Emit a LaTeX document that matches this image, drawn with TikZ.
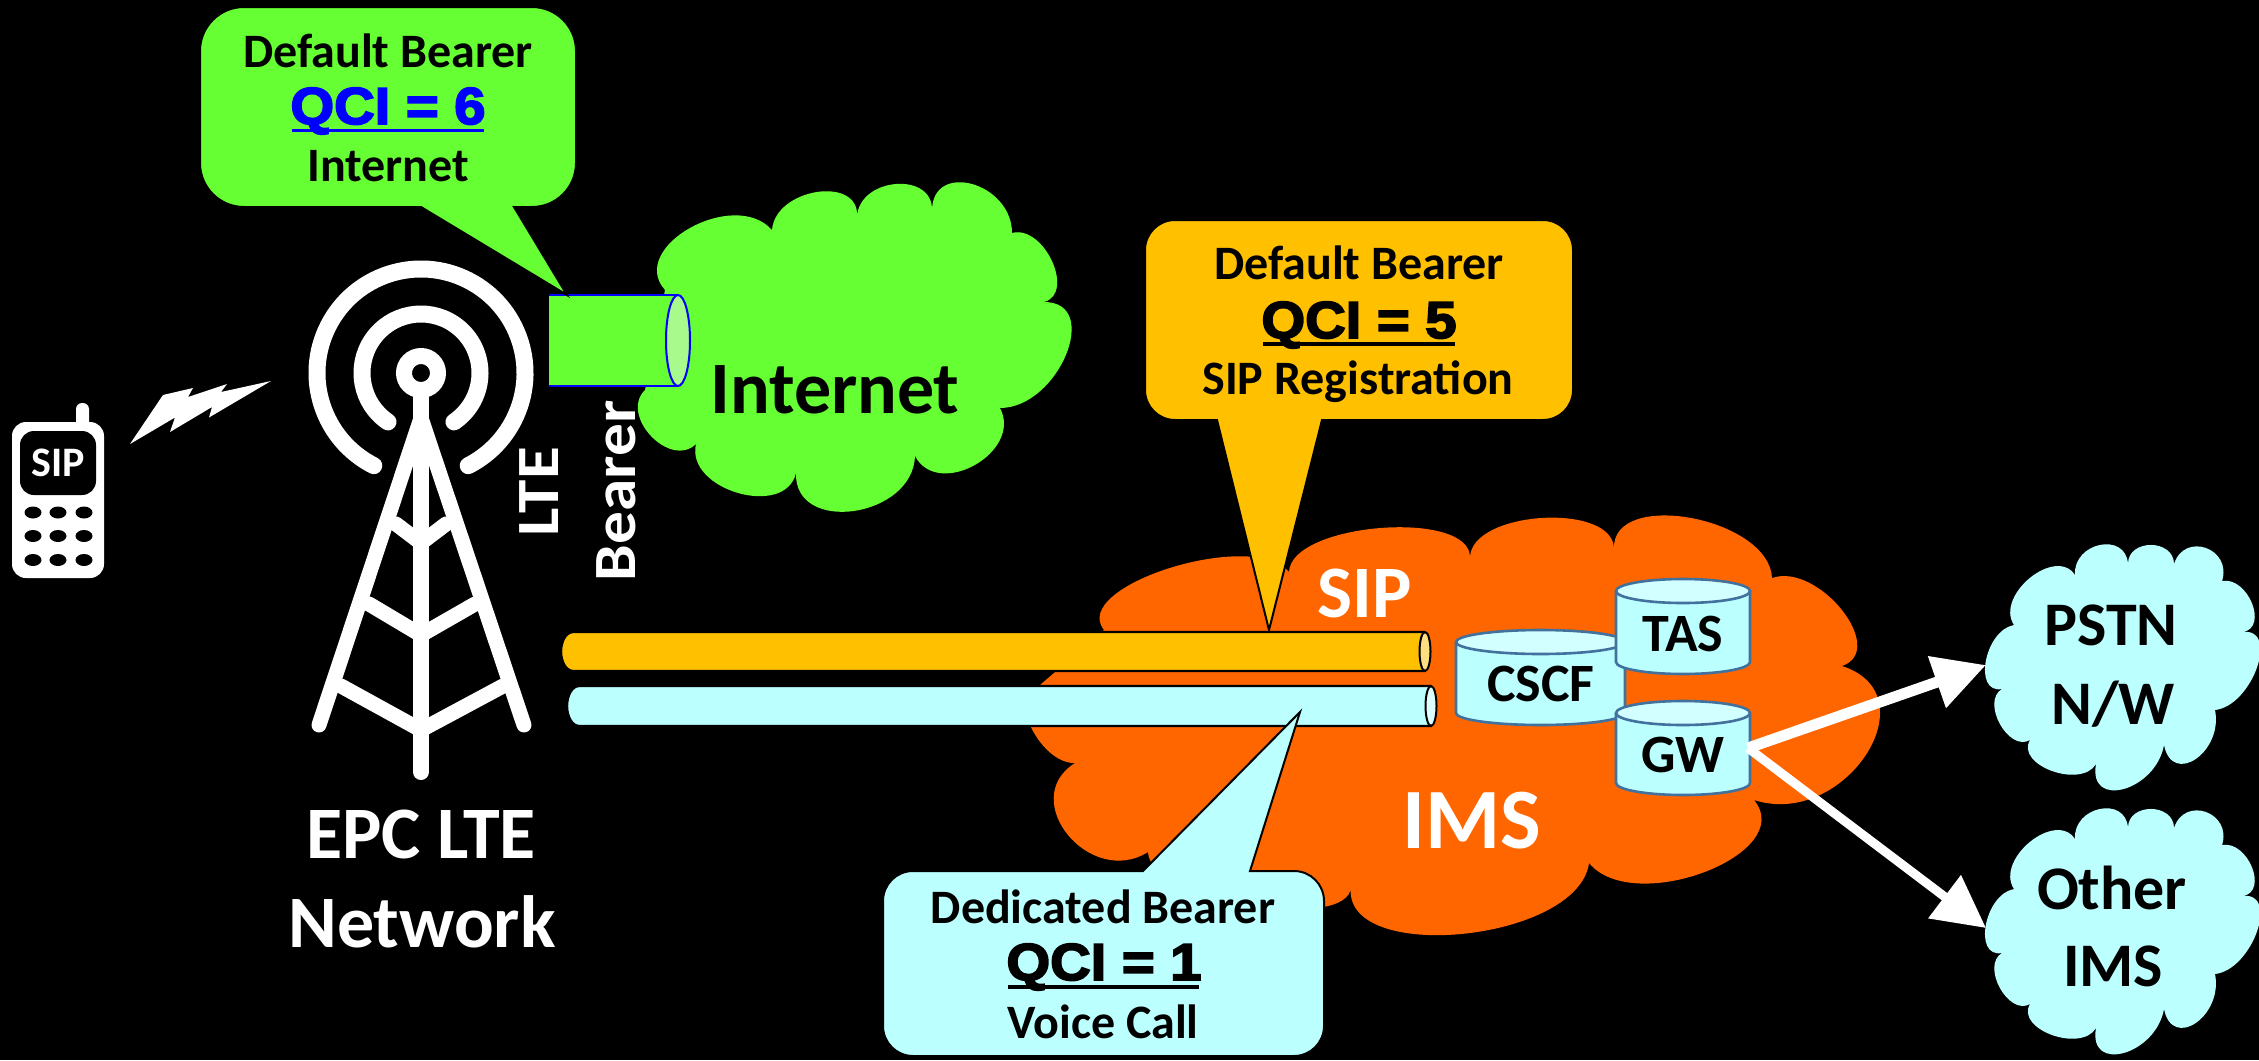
\documentclass[tikz,border=0pt]{standalone}
\usepackage{fontspec}
\setmainfont{Carlito}
\newfontfamily\qcifont[FakeBold=3.5,FakeStretch=1.08]{Liberation Sans Bold}
\usetikzlibrary{arrows.meta,calc}
\definecolor{grn}{HTML}{66FF33}
\definecolor{grnlt}{HTML}{A9FA8C}
\definecolor{amb}{HTML}{FFC000}
\definecolor{amblt}{HTML}{FFE080}
\definecolor{cyn}{HTML}{BBFFFF}
\definecolor{cynlt}{HTML}{DDFFFF}
\definecolor{org}{HTML}{FF6600}
\definecolor{dbedge}{HTML}{41719C}
\definecolor{dbtop}{HTML}{D2FFFF}
\newcommand{\fs}[1]{\fontsize{#1}{#1}\selectfont\bfseries}
\newcommand{\qf}[1]{\fontsize{#1}{#1}\qcifont}
\newcommand{\crad}{15pt}
% callout with pointer below: x0 y0 x1 y1 basea baseb tipx tipy fill
\newcommand{\callout}[9]{\fill[#9,draw=black,line width=1pt,rounded corners=\crad]
  (#5,#4) -- (#1,#4) -- (#1,#2) -- (#3,#2) -- (#3,#4) [sharp corners] -- (#6,#4) -- (#7,#8) -- cycle;}
% callout with pointer above
\newcommand{\calloutup}[9]{\fill[#9,draw=black,line width=1pt,rounded corners=\crad]
  (#6,#2) -- (#3,#2) -- (#3,#4) -- (#1,#4) -- (#1,#2) [sharp corners] -- (#5,#2) -- (#7,#8) -- cycle;}
% bar: xl xr ytop ybot rx fill edge
\newcommand{\pipebar}[7]{\fill[#6,draw=#7,line width=1.2pt] (#2,#3) -- (#1,#3) arc[x radius=#5,y radius={(#4-#3)/2},start angle=270,end angle=90] -- (#2,#4);}
% data store: x0 x1 ytop ybot ry
\newcommand{\dbase}[5]{\path[fill=cyn,draw=dbedge,line width=1.3pt] (#1,#3+#5) -- (#1,#4-#5) arc[x radius={(#2-#1)/2},y radius=#5,start angle=180,end angle=0] -- (#2,#3+#5);
  \path[fill=dbtop,draw=dbedge,line width=1.3pt] ({(#1+#2)/2},#3+#5) ellipse[x radius={(#2-#1)/2},y radius=#5];}
\tikzset{
  lb/.style 2 args={to path={.. controls ($0.3333*(\tikztostart)+1.3333*(#1,#2)-0.6667*(\tikztotarget)$) and ($0.3333*(\tikztotarget)+1.3333*(#1,#2)-0.6667*(\tikztostart)$) .. (\tikztotarget)}},
  lab/.style={anchor=base,inner sep=0pt,text=black},
  wlab/.style={lab,text=white},
  tw/.style={white,line width=7.5pt,line cap=round,line join=round},
  flow/.style={white,line width=#1,-{Triangle[length=26pt,width=26pt]}},
}
\begin{document}
\begin{tikzpicture}[x=0.5pt,y=-0.5pt]
\fill[black] (0,0) rectangle (2259,1060);
\useasboundingbox (0,0) rectangle (2259,1060);
% Internet cloud
\fill[grn] (665,290) to[lb={690}{228}] (772,230) to[lb={817}{192}] (857,217) to[lb={896}{184}] (932,211)
  to[lb={972}{184}] (1012,233) to[lb={1052}{261}] (1044,302) to[lb={1066}{355}] (1000,408)
  to[lb={975}{465}] (915,456) to[lb={854}{511}] (796,473) to[lb={738}{493}] (696,444)
  to[lb={651}{436}] (645,390) -- cycle;
% IMS cloud
\fill[org] (1104,630) to[lb={1170}{568}] (1289,572) to[lb={1381}{528}] (1470,558) to[lb={1542}{518}] (1614,549)
  to[lb={1691}{518}] (1772,578) to[lb={1842}{610}] (1842,666) to[lb={1866}{755}] (1754,800)
  to[lb={1705}{872}] (1589,863) to[lb={1462}{934}] (1351,886) to[lb={1250}{905}] (1148,852)
  to[lb={1068}{835}] (1075,763) to[lb={1030}{725}] (1040,685) -- cycle;
% PSTN and Other IMS clouds
\foreach \dy in {0,264}{
\begin{scope}[yshift=-\dy*0.5pt]
\fill[cyn] (2014,625) to[lb={2030}{578}] (2075,575) to[lb={2100}{545}] (2128,564) to[lb={2151}{545}] (2174,564)
  to[lb={2206}{548}] (2222,581) to[lb={2252}{603}] (2243,632) to[lb={2257}{668}] (2215,710)
  to[lb={2196}{759}] (2164,745) to[lb={2124}{789}] (2096,764) to[lb={2052}{771}] (2030,740)
  to[lb={2000}{724}] (2002,689) to[lb={1986}{661}] (2014,625) -- cycle;
\end{scope}}
% green pipe
\fill[grn] (549,295) rectangle (678,386);
\draw[blue,line width=1.2pt] (549,295) -- (678,295) (549,386) -- (678,386);
\path[fill=grnlt,draw=blue,line width=1pt] (678,340.5) ellipse[x radius=12,y radius=45.5];
% callouts
\renewcommand{\crad}{22pt}
\callout{200}{7}{576}{207}{421}{514}{567}{295}{grn}
\renewcommand{\crad}{15pt}
\callout{1145}{220}{1573}{420}{1217}{1322}{1269}{630}{amb}
% bars
\pipebar{573}{1425}{632}{671}{12}{amb}{black}
\path[fill=amblt,draw=black,line width=1pt] (1425,651.5) ellipse[x radius=5.5,y radius=19.5];
\pipebar{579}{1431}{686}{726}{12}{cyn}{black}
\path[fill=cynlt,draw=black,line width=1pt] (1431,706) ellipse[x radius=5.5,y radius=20];
\calloutup{883}{871}{1324}{1056}{1143}{1250}{1300}{712}{cyn}
% stores
\dbase{1456}{1625}{630}{725}{12}
\dbase{1616}{1750}{579}{674}{12}
\dbase{1616}{1750}{701}{795}{12}
% tower
\draw[tw] (421,418) -- (319,725);
\draw[tw] (421,418) -- (524,725);
\draw[tw,line width=8pt] (421,398) -- (421,772);
\draw[tw] (396,524) -- (421,543) -- (446,524);
\draw[tw] (369,604) -- (421,635) -- (475,604);
\draw[tw] (341,686) -- (421,730) -- (503,686);
\draw[white,line width=8pt] (421,373) circle[radius=17];
\draw[tw,line width=8.5pt] (421,373) ++(117:104) arc[radius=104,start angle=117,end angle=423];
\draw[tw,line width=8.5pt] (421,373) ++(124:59) arc[radius=59,start angle=124,end angle=416];
% phone
\fill[white,rounded corners=7pt] (12,422) rectangle (104,578);
\fill[white,rounded corners=3pt] (76,403) rectangle (89,430);
\fill[black,rounded corners=7pt] (20,431) rectangle (96,495);
\foreach \r in {512.5,536,560}\foreach \c in {33,58,84}{\fill[black] (\c,\r) ellipse[x radius=8.5,y radius=6];}
\node[wlab] (sipphone) at (58,476) {\fs{21}SIP};
% bolt
\fill[white] (130,444) -- (163,395) -- (193,388) -- (188,397) -- (227,384) -- (221,392) -- (271,381)
  -- (209,417.5) -- (212,407) -- (170,432) -- (175,417.5) -- cycle;
% arrows
\coordinate (gwport) at (1748,748);
\coordinate (pstnport) at (1986,665);
\coordinate (otherport) at (1986,928);
\draw[flow=5.5pt] (gwport) -- (pstnport);
\draw[flow=4.5pt] (gwport) -- (otherport);
% labels
\node[lab] (inet) at (835,413) {\fs{37}Internet};
\node[lab] (g1) at (388,67) {\fs{24}Default Bearer};
\node[lab,text=blue] (g2) at (388,124) {\qf{26}QCI = 6};
\node[lab] (g3) at (388,181) {\fs{24}Internet};
\draw[blue,line width=1.6pt] (292,130.5) -- (484,130.5);
\node[lab] (y1) at (1359,279) {\fs{24}Default Bearer};
\node[lab] (y2) at (1359,338) {\qf{26}QCI = 5};
\node[lab] (y3) at (1358,394) {\fs{24}SIP Registration};
\draw[black,line width=1.6pt] (1263,344) -- (1455,344);
\node[lab] (c1) at (1103,923) {\fs{24}Dedicated Bearer};
\node[lab] (c2) at (1104,980) {\qf{26}QCI = 1};
\node[lab] (c3) at (1103,1038) {\fs{24}Voice Call};
\draw[black,line width=1.6pt] (1008,987) -- (1199,987);
\node[lab] (cscf) at (1541,701) {\fs{27}CSCF};
\node[lab] (tas) at (1683,651) {\fs{27}TAS};
\node[lab] (gw) at (1683,772) {\fs{27}GW};
\node[wlab] (sip) at (1365,617) {\fs{37}SIP};
\node[wlab] (ims) at (1472,848) {\fs{43}IMS};
\node[lab] (pstn) at (2111,645) {\fs{31}PSTN};
\node[lab] (nw) at (2113,724) {\fs{31}N/W};
\node[lab] (other) at (2112,909) {\fs{31}Other};
\node[lab] (ims2) at (2113,986) {\fs{31}IMS};
\node[wlab] (epc) at (421,858) {\fs{37}EPC LTE};
\node[wlab] (net) at (422,947) {\fs{37}Network};
\node[wlab,rotate=90] (lte) at (558,492) {\scalebox{1.12}[1]{\fs{30}LTE}};
\node[wlab,rotate=90] (bearer) at (635,491) {\scalebox{1.09}[1]{\fs{30}Bearer}};
\end{tikzpicture}
\end{document}
